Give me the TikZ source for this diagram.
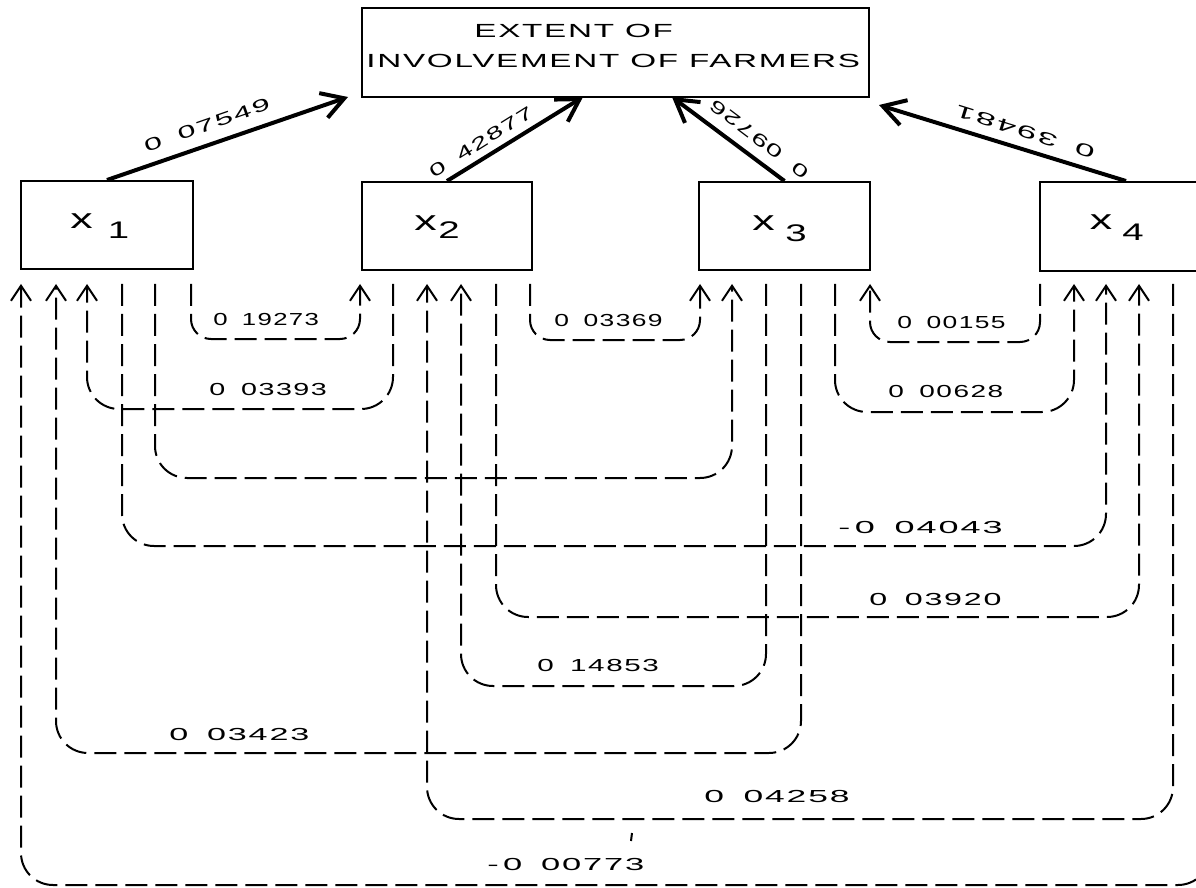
\documentclass[tikz,border=0pt]{standalone}
\usepackage{fontspec}
\setmainfont{Liberation Sans}
\newfontfamily\numf{Liberation Sans}[FakeStretch=1.85,LetterSpace=10]
\newfontfamily\capf{Liberation Sans}[FakeStretch=1.75,LetterSpace=9]
\newfontfamily\xf{Liberation Sans}[FakeStretch=1.6]
\newcommand{\gp}{\hspace{3.5pt}\ }
\newcommand{\mn}{-\hspace{2pt}}
\newcommand{\sx}[2]{\scalebox{#1}[1]{#2}}
\usetikzlibrary{arrows.meta}
\begin{document}
\begin{tikzpicture}[x=0.5pt,y=-0.5pt,
  box/.style={draw,line width=1pt,inner sep=0pt},
  conn/.style={line width=1pt,dash pattern=on 11pt off 4pt,rounded corners=16pt},
  smallr/.style={rounded corners=10pt},
  tipped/.style={-{Straight Barb[length=7.5pt,width=10pt]}},
  mainarrow/.style={line width=2pt,-{Straight Barb[length=11pt,width=13pt]}},
  numtext/.style={inner sep=0pt,font=\numf\fontsize{8.7}{10}\selectfont},
  lefttext/.style={numtext,anchor=west},
  captext/.style={inner sep=0pt,anchor=west,font=\capf\fontsize{9.5}{11}\selectfont},
  xsym/.style={inner sep=0pt,font=\xf\fontsize{14}{16}\selectfont},
  xdig/.style={inner sep=0pt,font=\xf\fontsize{12}{14}\selectfont}]
\useasboundingbox (0,0) rectangle (1196,888);
\fill[white] (0,0) rectangle (1196,888);
\clip (0,0) rectangle (1196,888);

% boxes
\node[box,minimum width=253.5pt,minimum height=44.5pt] (top) at (615.5,52.5) {};
\node[box,minimum width=86pt,minimum height=44pt] (x1) at (107,225) {};
\node[box,minimum width=85pt,minimum height=44pt] (x2) at (447,226) {};
\node[box,minimum width=85.5pt,minimum height=44pt] (x3) at (784.5,226) {};
\node[box,minimum width=86pt,minimum height=44.5pt] (x4) at (1126,226.5) {};

% box texts
\node[captext] (tt1) at (474,31) {EXTENT OF};
\node[captext] (tt2) at (366,61) {INVOLVEMENT OF FARMERS};
\node[xsym] (x1a) at (81.5,221.5) {x};
\node[xdig] (x1b) at (118.5,230) {1};
\node[xsym] (x2a) at (425.5,223.5) {x};
\node[xdig] (x2b) at (449,230) {2};
\node[xsym] (x3a) at (763.5,223.5) {x};
\node[xdig] (x3b) at (796,233) {3};
\node[xsym] (x4a) at (1101,222) {x};
\node[xdig] (x4b) at (1133,232) {4};

% ports below the boxes
\foreach \n/\x in {1/21,2/56,3/87,4/122,5/155,6/191}{\coordinate (a\n) at (\x,284);}
\foreach \n/\x in {1/360,2/393,3/427,4/461,5/496,6/530}{\coordinate (b\n) at (\x,284);}
\foreach \n/\x in {1/700,2/732,3/766,4/801,5/835,6/870}{\coordinate (c\n) at (\x,284);}
\foreach \n/\x in {1/1040,2/1074,3/1106,4/1139,5/1173,6/1210}{\coordinate (d\n) at (\x,284);}

% levels of the horizontal runs
\coordinate (h1) at (0,339);
\coordinate (h2) at (0,409);
\coordinate (h3) at (0,340);
\coordinate (h4) at (0,478);
\coordinate (h5) at (0,546);
\coordinate (h6) at (0,617);
\coordinate (h7) at (0,686);
\coordinate (h8) at (0,753);
\coordinate (h9) at (0,412);
\coordinate (h10) at (0,342);
\coordinate (h11) at (0,819);
\coordinate (h12) at (0,885);

% dashed connectors
\draw[conn,smallr,tipped] (a6) -- (a6 |- h1) -| (b1);
\draw[conn,tipped] (b2) -- (b2 |- h2) -| (a3);
\draw[conn,smallr,tipped] (b6) -- (b6 |- h3) -| (c1);
\draw[conn,tipped] (a5) -- (a5 |- h4) -| (c2);
\draw[conn,tipped] (a4) -- (a4 |- h5) -| (d3);
\draw[conn,tipped] (b5) -- (b5 |- h6) -| (d4);
\draw[conn,tipped] (c3) -- (c3 |- h7) -| (b4);
\draw[conn,tipped] (c4) -- (c4 |- h8) -| (a2);
\draw[conn,tipped] (c5) -- (c5 |- h9) -| (d2);
\draw[conn,smallr,tipped] (d1) -- (d1 |- h10) -| (c6);
\draw[conn,tipped] (d5) -- (d5 |- h11) -| (b3);
\draw[conn,tipped] (d6) -- (d6 |- h12) -| (a1);

% labels of the dashed connectors
\node[lefttext] (l1) at (213,320) {\sx{0.8}{0\gp 19273}};
\node[lefttext] (l2) at (209,390) {\sx{0.89}{0\gp 03393}};
\node[lefttext] (l3) at (554,321) {\sx{0.82}{0\gp 03369}};
\node[lefttext] (l5) at (838,528) {\sx{1.12}{\mn 0\gp 04043}};
\node[lefttext] (l6) at (869,600) {0\gp 03920};
\node[lefttext] (l7) at (537,666) {\sx{0.92}{0\gp 14853}};
\node[lefttext] (l8) at (169,735) {\sx{1.06}{0\gp 03423}};
\node[lefttext] (l9) at (888,392) {\sx{0.87}{0\gp 00628}};
\node[lefttext] (l10) at (897,323) {\sx{0.82}{0\gp 00155}};
\node[lefttext] (l11) at (704,797) {\sx{1.1}{0\gp 04258}};
\node[lefttext] (l12) at (487,865) {\sx{1.07}{\mn 0\gp 00773}};

% stray tick
\draw[line width=1pt] (632,833) -- (631,841);

% main arrows to the top box
\coordinate (t1) at (348,97);
\coordinate (t2) at (583,97);
\coordinate (t3) at (672,97);
\coordinate (t4) at (879,105);
\draw[mainarrow] (x1.north) -- (t1);
\draw[mainarrow] (x2.north) -- (t2);
\draw[mainarrow] (x3.north) -- (t3);
\draw[mainarrow] (x4.north) -- (t4);
\node[numtext,rotate=19.2] (m1) at (207,125) {0\gp 07549};
\node[numtext,rotate=32] (m2) at (481,142) {\sx{0.9}{0\gp 42877}};
\node[numtext,rotate=142.9] (m3) at (759,139) {\sx{0.9}{0\gp 09726}};
\node[numtext,rotate=162.7] (m4) at (1025,132) {\sx{1.1}{0\gp 39481}};
\end{tikzpicture}
\end{document}
